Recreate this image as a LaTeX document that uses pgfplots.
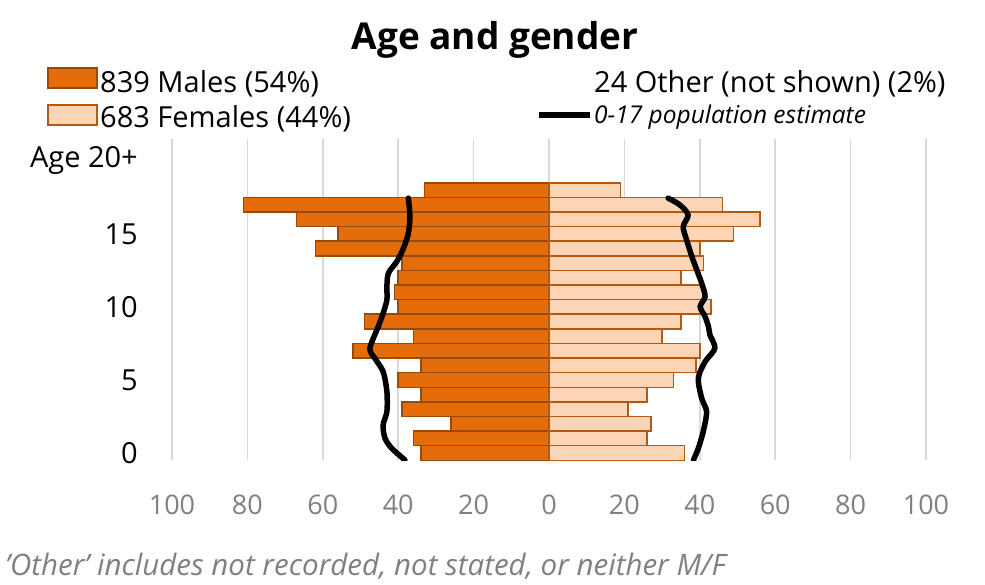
\documentclass[border=0pt]{standalone}
\usepackage{pgfplots}
\pgfplotsset{compat=1.18}
\usepackage{fontspec}
\setmainfont{Open Sans}

\definecolor{maleorange}{HTML}{E46C0A}
\definecolor{maleedge}{HTML}{9A4A08}
\definecolor{femfill}{HTML}{FBD5B5}
\definecolor{femedge}{HTML}{B4590F}
\definecolor{gridgray}{HTML}{D9D9D9}
\definecolor{ticktxt}{HTML}{808080}

\begin{document}
\begin{tikzpicture}[x=1pt,y=1pt]
\useasboundingbox (0,0) rectangle (985,585);

% title
\node[anchor=base,font=\fontsize{37}{42}\selectfont\bfseries] at (495,535) {Age and gender};

% legend (drawn by hand to get the two column layout)
\draw[fill=maleorange,draw=maleedge,line width=1.5pt] (48,497) rectangle (97,517);
\node[anchor=base west,inner sep=0pt,font=\fontsize{29}{34}\selectfont] at (100,492) {839 Males (54\%)};
\draw[fill=femfill,draw=femedge,line width=1.5pt] (48,460) rectangle (97,480);
\node[anchor=base west,inner sep=0pt,font=\fontsize{29}{34}\selectfont] at (100,457) {683 Females (44\%)};
\node[anchor=base west,inner sep=0pt,font=\fontsize{29}{34}\selectfont] at (594,492) {24 Other (not shown) (2\%)};
\draw[line width=5.5pt,black] (539,470) -- (590,470);
\node[anchor=base west,inner sep=0pt,font=\fontsize{24.5}{28}\selectfont\itshape] at (594,461) {0-17 population estimate};

\begin{axis}[
    at={(172pt,124.7pt)}, anchor=south west,
    scale only axis,
    width=754pt, height=321.3pt,
    xmin=-100, xmax=100,
    ymin=-0.5, ymax=21.5,
    xtick={-100,-80,...,100},
    xticklabel={\pgfmathparse{abs(\tick)}\pgfmathprintnumber[fixed,precision=0]{\pgfmathresult}},
    ytick={0,5,10,15,20},
    yticklabels={0,5,10,15,Age 20+},
    xmajorgrids,
    major grid style={draw=gridgray,line width=1.5pt},
    axis line style={draw=none},
    major tick length=0pt,
    /pgf/number format/assume math mode=true,
    xticklabel style={anchor=base,yshift=-54.7pt,text=ticktxt,font=\fontsize{27}{30}\selectfont},
    yticklabel style={anchor=east,inner sep=0pt,xshift=-34pt,font=\fontsize{29}{34}\selectfont},
]
% males, to the left
\addplot[xbar,bar width=1,bar shift=0,fill=maleorange,draw=maleedge,line width=1.5pt]
  coordinates {(-34,0) (-36,1) (-26,2) (-39,3) (-34,4) (-40,5) (-34,6) (-52,7) (-36,8) (-49,9)
               (-40,10) (-41,11) (-40,12) (-39,13) (-62,14) (-56,15) (-67,16) (-81,17) (-33,18)};
% females, to the right
\addplot[xbar,bar width=1,bar shift=0,fill=femfill,draw=femedge,line width=1.5pt]
  coordinates {(36,0) (26,1) (27,2) (21,3) (26,4) (33,5) (39,6) (40,7) (30,8) (35,9)
               (43,10) (41,11) (35,12) (41,13) (40,14) (49,15) (56,16) (46,17) (19,18)};

% 0-17 population estimate
\addplot[black,line width=5.5pt,smooth,tension=0.5,line cap=round]
  coordinates {(-37.3,17.45) (-36.9,16.18) (-37.3,15.05) (-38.6,14.02) (-40.4,13.10) (-42.6,12.31)
               (-43.0,11.39) (-43.0,10.48) (-44.0,9.57) (-45.3,8.65) (-47.5,7.17) (-46.2,6.49)
               (-44.0,5.57) (-43.0,4.20) (-43.0,2.83) (-44.0,1.92) (-43.5,1.01) (-41.7,0.32) (-38.2,-0.48)};
\addplot[black,line width=5.5pt,smooth,tension=0.5,line cap=round]
  coordinates {(31.6,17.45) (34.7,16.99) (36.9,16.30) (35.6,15.50) (36.5,14.59) (37.9,13.45)
               (39.2,12.53) (40.5,11.62) (41.4,10.71) (40.1,10.02) (41.4,9.34) (42.3,8.65)
               (42.7,8.08) (44.0,7.17) (41.4,6.25) (39.6,5.12) (40.5,3.75) (41.8,2.83)
               (40.9,1.46) (39.6,0.32) (38.3,-0.48)};
\end{axis}

% footnote
\node[anchor=base west,inner sep=0pt,text=ticktxt,font=\fontsize{29.5}{33}\selectfont\itshape] at (5,9)
  {'Other' includes not recorded, not stated, or neither M/F};
\end{tikzpicture}
\end{document}
